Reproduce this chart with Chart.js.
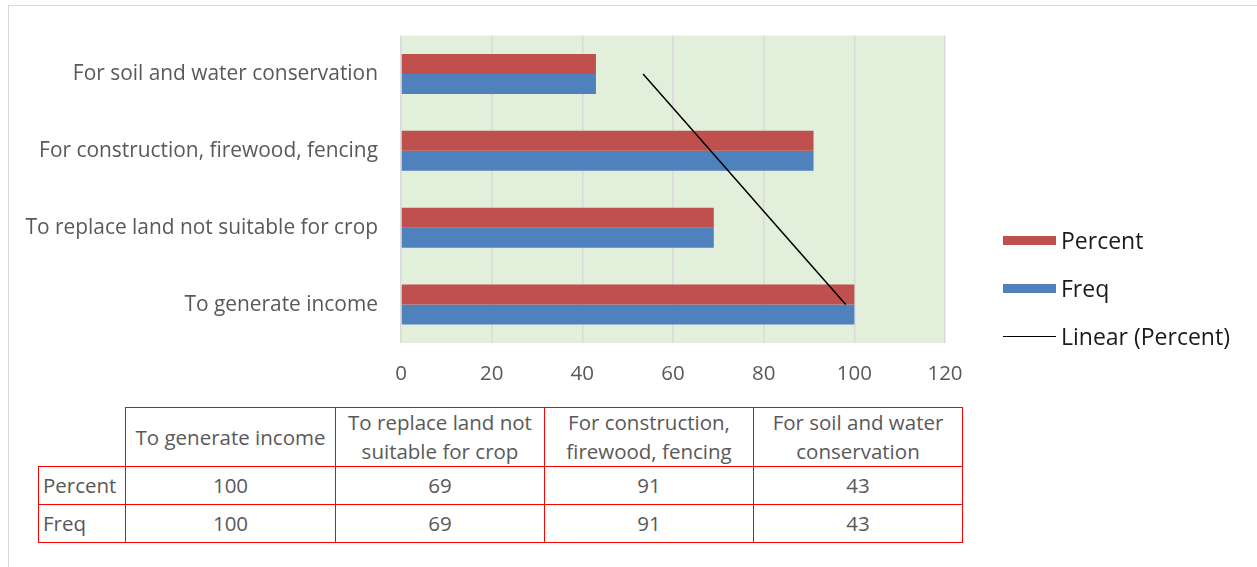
<!DOCTYPE html>
<html>
<head>
<meta charset="utf-8">
<script src="https://cdn.jsdelivr.net/npm/chart.js@4.4.1/dist/chart.umd.min.js"></script>
<style>
    body { margin: 0; background: #fff; font-family: 'Open Sans', sans-serif; }
    #wrap { position: relative; width: 1257px; height: 567px; overflow: hidden; }
    #frame { position: absolute; left: 8px; top: 5px; width: 1300px; height: 600px; border: 1px solid #d9d9d9; }
    #chartBox { position: absolute; left: 0; top: 0; width: 1257px; height: 400px; }
    #legend { position: absolute; left: 1003px; top: 216px; color: #1a1a1a; font-size: 23px; }
    .item { height: 48px; display: flex; align-items: center; position: absolute; left: 0; white-space: nowrap; }
    .swatch { width: 53px; height: 9px; margin-right: 5px; }
    .lineSw { width: 53px; height: 0; border-top: 1.5px solid #000; margin-right: 5px; }
    #dataTable { position: absolute; left: 38px; top: 407px; border-collapse: collapse; color: #595959; font-size: 20.5px; table-layout: fixed; }
    #dataTable td { border: 1px solid #ff0000; text-align: center; padding: 0; line-height: 29px; white-space: nowrap; overflow: hidden; }
    #dataTable td.rowHead { text-align: left; padding-left: 4px; }
    #dataTable td.blank { border-top: none; border-left: none; }
</style>
</head>
<body>
<div id="wrap">
    <div id="frame"></div>
    <div id="chartBox"><canvas id="reasonChart"></canvas></div>
    <div id="legend"></div>
    <table id="dataTable"></table>
</div>
<script>
const categories = [
    'To generate income',
    'To replace land not suitable for crop',
    'For construction, firewood, fencing',
    'For soil and water conservation'
];
const tableHeads = [
    ['To generate income'],
    ['To replace land not', 'suitable for crop'],
    ['For construction,', 'firewood, fencing'],
    ['For soil and water', 'conservation']
];
const percentValues = [100, 69, 91, 43];
const freqValues = [100, 69, 91, 43];
const xTicks = [0, 20, 40, 60, 80, 100, 120];

const RED = '#C0504D';
const BLUE = '#4F81BD';

// least squares trend of the Percent series over category positions 1..n
function linearTrend(values) {
    const n = values.length;
    const mx = (n + 1) / 2;
    const my = values.reduce((a, b) => a + b, 0) / n;
    let sxy = 0, sxx = 0;
    values.forEach((v, i) => {
        sxy += (i + 1 - mx) * (v - my);
        sxx += (i + 1 - mx) * (i + 1 - mx);
    });
    const slope = sxy / sxx;
    return values.map((_, i) => my + slope * (i + 1 - mx));
}
const trendValues = linearTrend(percentValues);

// green plot background
const plotBackground = {
    id: 'plotBackground',
    beforeDraw(chart) {
        const { ctx, chartArea } = chart;
        ctx.save();
        ctx.fillStyle = '#E2EFDA';
        ctx.fillRect(chartArea.left, chartArea.top, chartArea.right - chartArea.left, chartArea.bottom - chartArea.top);
        ctx.restore();
    }
};

const ctx = document.getElementById('reasonChart').getContext('2d');
new Chart(ctx, {
    data: {
        labels: categories,
        datasets: [{
            type: 'line',
            label: 'Linear (Percent)',
            data: trendValues,
            borderColor: '#000',
            borderWidth: 1.5,
            pointRadius: 0,
            tension: 0
        },
        {
            type: 'bar',
            label: 'Percent',
            data: percentValues,
            backgroundColor: RED,
            categoryPercentage: 0.52,
            barPercentage: 1
        },
        {
            type: 'bar',
            label: 'Freq',
            data: freqValues,
            backgroundColor: BLUE,
            categoryPercentage: 0.52,
            barPercentage: 1
        }]
    },
    options: {
        indexAxis: 'y',
        responsive: true,
        maintainAspectRatio: false,
        animation: false,
        layout: {
            padding: { left: 0, top: 34, right: 312, bottom: 7 }
        },
        plugins: {
            legend: { display: false },
            tooltip: { enabled: false }
        },
        scales: {
            x: {
                min: 0,
                max: 120,
                afterBuildTicks: axis => { axis.ticks = xTicks.map(v => ({ value: v })); },
                afterFit: axis => { axis.height = 50; },
                grid: { color: '#d9d9d9', lineWidth: 1.5, drawTicks: false },
                border: { display: false },
                ticks: {
                    color: '#595959',
                    padding: 19,
                    font: { family: 'Open Sans', size: 20.5 }
                }
            },
            y: {
                reverse: true,
                afterFit: axis => { axis.width = 401; },
                grid: { display: false, drawTicks: false },
                border: { display: false },
                ticks: {
                    color: '#595959',
                    padding: 23,
                    font: { family: 'Open Sans', size: 20.9 }
                }
            }
        }
    },
    plugins: [plotBackground]
});

// legend on the right
const legendItems = [
    { label: 'Percent', color: RED },
    { label: 'Freq', color: BLUE },
    { label: 'Linear (Percent)', line: true }
];
const legend = document.getElementById('legend');
legendItems.forEach((it, i) => {
    const row = document.createElement('div');
    row.className = 'item';
    row.style.top = (i * 48) + 'px';
    const sw = document.createElement('span');
    if (it.line) {
        sw.className = 'lineSw';
    } else {
        sw.className = 'swatch';
        sw.style.background = it.color;
    }
    row.appendChild(sw);
    row.appendChild(document.createTextNode(it.label));
    legend.appendChild(row);
});

// data table under the chart
const table = document.getElementById('dataTable');
const colWidths = [87, 210, 209, 209, 209];
const colgroup = document.createElement('colgroup');
colWidths.forEach(w => {
    const c = document.createElement('col');
    c.style.width = w + 'px';
    colgroup.appendChild(c);
});
table.appendChild(colgroup);

const head = table.insertRow();
head.style.height = '59px';
const blank = head.insertCell();
blank.className = 'blank';
tableHeads.forEach(lines => {
    const td = head.insertCell();
    td.innerHTML = lines.join('<br>');
});
[['Percent', percentValues], ['Freq', freqValues]].forEach(([name, vals]) => {
    const tr = table.insertRow();
    tr.style.height = '38px';
    const th = tr.insertCell();
    th.className = 'rowHead';
    th.textContent = name;
    vals.forEach(v => { tr.insertCell().textContent = v; });
});
</script>
</body>
</html>
